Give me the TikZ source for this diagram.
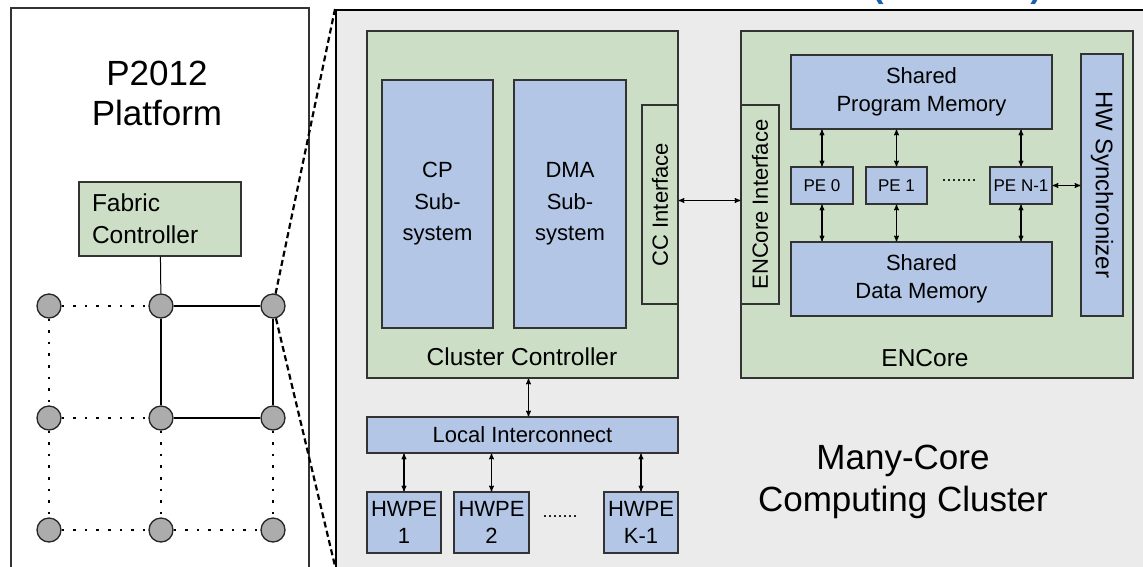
\documentclass[tikz,border=0pt]{standalone}
\usepackage{fontspec}
\setmainfont{Liberation Sans}
\usetikzlibrary{arrows}

\definecolor{panelgray}{RGB}{235,235,235}
\definecolor{boxgreen}{RGB}{205,222,199}
\definecolor{boxblue}{RGB}{179,198,229}
\definecolor{nodegray}{RGB}{172,172,172}
\definecolor{titleblue}{RGB}{25,95,170}

\begin{document}
\begin{tikzpicture}[x=1pt,y=-1pt,>=stealth',semithick]

            \tikzstyle{greenbox}=[draw=black!80,fill=boxgreen,line width=1.2pt,inner sep=0pt]
            \tikzstyle{bluebox}=[draw=black!80,fill=boxblue,line width=1.2pt,inner sep=0pt,align=center,font=\fontsize{22}{28}\selectfont]
            \tikzstyle{router}=[circle,draw=black!85,fill=nodegray,line width=1.3pt,minimum size=24pt,inner sep=0pt]
            \tikzstyle{mesh}=[line width=2.2pt]
            \tikzstyle{weak}=[line width=2.4pt,dash pattern=on 2.6pt off 9pt]
            \tikzstyle{zoom}=[line width=2.2pt,dash pattern=on 6pt off 3.5pt]
            \tikzstyle{link}=[<->,line width=1.1pt]
            \tikzstyle{caption}=[font=\fontsize{24.5}{30}\selectfont]
            \tikzstyle{bigtext}=[align=center,font=\fontsize{35}{40}\selectfont]

            \useasboundingbox (0,0) rectangle (1143,566);
            \fill[white] (0,0) rectangle (1143,566);

            % platform on the left
            \draw[draw=black!80,line width=1.5pt,fill=white] (11,8) rectangle (309,590);
            \node[bigtext] (title) at (157,93) {P2012\\Platform};
            \node[greenbox,text width=136pt,inner xsep=13pt,minimum height=74pt,align=left,font=\fontsize{24.5}{32}\selectfont] (fc) at (160,219) {Fabric\\Controller};

            \node[router] (n11) at (49,306)  {};
            \node[router] (n12) at (161,306) {};
            \node[router] (n13) at (273,306) {};
            \node[router] (n21) at (49,418)  {};
            \node[router] (n22) at (161,418) {};
            \node[router] (n23) at (273,418) {};
            \node[router] (n31) at (49,530)  {};
            \node[router] (n32) at (161,530) {};
            \node[router] (n33) at (273,530) {};

            \draw[line width=1pt] (fc) -- (n12);
            \draw[mesh] (n12) -- (n13);
            \draw[mesh] (n12) -- (n22);
            \draw[mesh] (n13) -- (n23);
            \draw[mesh] (n22) -- (n23);
            \draw[weak] (n11) -- (n12);
            \draw[weak] (n11) -- (n21);
            \draw[weak] (n21) -- (n22);
            \draw[weak] (n21) -- (n31);
            \draw[weak] (n22) -- (n32);
            \draw[weak] (n23) -- (n33);
            \draw[weak] (n31) -- (n32);
            \draw[weak] (n32) -- (n33);

            % zoomed cluster
            \draw[line width=2.5pt,fill=panelgray] (336,10) rectangle (1170,590);
            \node[titleblue,anchor=base,font=\fontsize{34}{34}\selectfont\bfseries] (lpar) at (878,-3) {(};
            \node[titleblue,anchor=base,font=\fontsize{34}{34}\selectfont\bfseries] (rpar) at (1036,-3) {)};

            \coordinate (zt) at (335,9);
            \coordinate (zb) at (335,566);
            \draw[zoom] (zt) -- (n13);
            \draw[zoom] (n13) -- (zb);

            \node[greenbox,minimum width=311pt,minimum height=347pt] (cc) at (522.5,204.5) {};
            \node[caption] (cct) at (522,357) {Cluster Controller};
            \node[bluebox,minimum width=111pt,minimum height=248pt,font=\fontsize{22}{31.5}\selectfont] (cp) at (437.5,204) {CP\\Sub-\\system};
            \node[bluebox,minimum width=112pt,minimum height=248pt,font=\fontsize{22}{31.5}\selectfont] (dma) at (570,204) {DMA\\Sub-\\system};
            \node[greenbox,minimum width=36pt,minimum height=199pt] (cci) at (660,204.5) {};
            \node[rotate=90,font=\fontsize{22}{28}\selectfont] (ccit) at (cci) {CC Interface};

            \node[greenbox,minimum width=392pt,minimum height=347pt] (enc) at (937,204.5) {};
            \node[caption] (enct) at (925,358) {ENCore};
            \node[greenbox,minimum width=38pt,minimum height=199pt] (eni) at (760,204.5) {};
            \node[rotate=90,font=\fontsize{22}{28}\selectfont] (enit) at (eni) {ENCore Interface};
            \node[bluebox,minimum width=261pt,minimum height=74pt] (spm) at (921.5,92) {Shared\\Program Memory};
            \node[bluebox,minimum width=62pt,minimum height=37pt,font=\fontsize{17}{20}\selectfont] (pe0) at (822,185.5) {PE 0};
            \node[bluebox,minimum width=61pt,minimum height=37pt,font=\fontsize{17}{20}\selectfont] (pe1) at (896.5,185.5) {PE 1};
            \node[bluebox,minimum width=62pt,minimum height=37pt,font=\fontsize{17}{20}\selectfont] (pen) at (1021,185.5) {PE N-1};
            \node[font=\fontsize{18}{20}\selectfont] (ped) at (959,181) {.......};
            \node[bluebox,minimum width=261pt,minimum height=74pt] (sdm) at (921.5,279) {Shared\\Data Memory};
            \node[bluebox,minimum width=42pt,minimum height=262pt] (hws) at (1102,185) {};
            \node[rotate=-90,font=\fontsize{24}{28}\selectfont] (hwst) at (hws) {HW Synchronizer};

            \node[bluebox,minimum width=311pt,minimum height=36pt] (li) at (522.5,435) {Local Interconnect};
            \node[bluebox,minimum width=74pt,minimum height=61pt,font=\fontsize{22}{27}\selectfont] (hw1) at (404,522.5) {HWPE\\1};
            \node[bluebox,minimum width=75pt,minimum height=61pt,font=\fontsize{22}{27}\selectfont] (hw2) at (491.5,522.5) {HWPE\\2};
            \node[bluebox,minimum width=74pt,minimum height=61pt,font=\fontsize{22}{27}\selectfont] (hwk) at (641,522.5) {HWPE\\K-1};
            \node[font=\fontsize{18}{20}\selectfont] (hwd) at (560,517) {.......};

            \node[bigtext,font=\fontsize{35}{42}\selectfont] (mcc) at (903,482) {Many-Core\\Computing Cluster};

            \draw[link] ([yshift=4pt]cci.east) -- ([yshift=4pt]eni.west);
            \draw[link] ([xshift=6pt]cc.south) -- ([xshift=6pt]li.north);
            \draw[link] (hw1.north) -- (hw1.north |- li.south);
            \draw[link] (hw2.north) -- (hw2.north |- li.south);
            \draw[link] (hwk.north) -- (hwk.north |- li.south);
            \draw[link] (pe0.north) -- (pe0.north |- spm.south);
            \draw[link] (pe1.north) -- (pe1.north |- spm.south);
            \draw[link] (pen.north) -- (pen.north |- spm.south);
            \draw[link] (pe0.south) -- (pe0.south |- sdm.north);
            \draw[link] (pe1.south) -- (pe1.south |- sdm.north);
            \draw[link] (pen.south) -- (pen.south |- sdm.north);
            \draw[link] (pen.east) -- (hws.west |- pen.east);
        \end{tikzpicture}
\end{document}
